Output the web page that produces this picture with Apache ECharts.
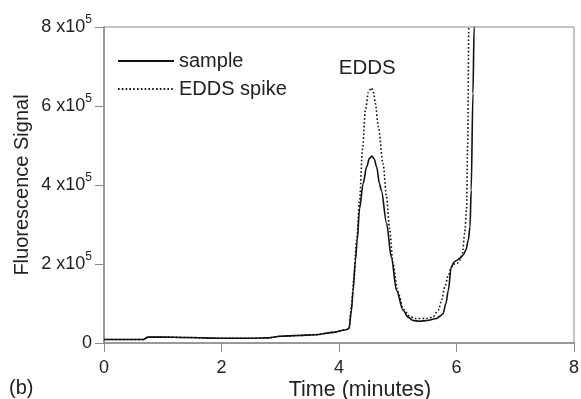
<!DOCTYPE html>
<html>
<head>
<meta charset="UTF-8">
<title>EDDS chromatogram</title>
<script src="https://cdn.jsdelivr.net/npm/echarts@6/dist/echarts.min.js"></script>
<style>
  html, body { margin: 0; padding: 0; background: #fff; }
  #chart { width: 581px; height: 399px; }
</style>
</head>
<body>
<div id="chart"></div>
<script>
// signal values in units of 1e5
var sampleTime = [0, 0.67, 0.75, 1.0, 1.4, 2.0, 2.5, 2.8, 3.0, 3.3, 3.6, 3.9, 4.1, 4.17, 4.21, 4.24, 4.28, 4.31, 4.35, 4.41, 4.47, 4.52, 4.56, 4.6, 4.64, 4.69, 4.72, 4.81, 4.89, 4.98, 5.09, 5.18, 5.26, 5.37, 5.5, 5.66, 5.72, 5.77, 5.82, 5.86, 5.91, 5.96, 6.0, 6.06, 6.11, 6.16, 6.2, 6.23, 6.25, 6.28, 6.3, 6.33];
var sampleSignal = [0.09, 0.09, 0.15, 0.15, 0.14, 0.12, 0.12, 0.13, 0.17, 0.19, 0.21, 0.27, 0.33, 0.36, 0.8, 1.33, 2.1, 2.6, 3.4, 4.03, 4.46, 4.68, 4.73, 4.66, 4.46, 4.03, 3.87, 3.03, 2.18, 1.33, 0.83, 0.65, 0.57, 0.55, 0.57, 0.62, 0.68, 0.74, 1.0, 1.33, 1.92, 2.05, 2.09, 2.15, 2.22, 2.35, 2.6, 2.94, 3.87, 6.32, 8.0, 10];

var spikeTime = [0, 0.67, 0.75, 1.0, 1.4, 2.0, 2.5, 2.8, 3.0, 3.3, 3.6, 3.9, 4.1, 4.17, 4.21, 4.25, 4.3, 4.35, 4.4, 4.45, 4.5, 4.55, 4.59, 4.62, 4.67, 4.75, 4.81, 4.86, 4.92, 5.0, 5.1, 5.2, 5.3, 5.5, 5.6, 5.69, 5.75, 5.8, 5.86, 5.91, 5.96, 6.01, 6.06, 6.1, 6.14, 6.17, 6.19, 6.21, 6.23];
var spikeSignal = [0.09, 0.09, 0.15, 0.15, 0.14, 0.12, 0.12, 0.13, 0.17, 0.19, 0.21, 0.27, 0.33, 0.36, 0.9, 1.6, 2.6, 3.6, 4.9, 5.9, 6.35, 6.46, 6.33, 6.06, 5.47, 4.54, 3.7, 2.9, 2.0, 1.3, 0.85, 0.68, 0.62, 0.62, 0.66, 0.83, 1.1, 1.42, 1.7, 1.92, 2.0, 2.01, 2.1, 2.27, 2.78, 3.36, 5.0, 8.0, 10];

var xTicks = [0, 2, 4, 6, 8];
var yTicks = [0, 2, 4, 6, 8];

function pairs(xs, ys) {
  return xs.map(function (x, i) { return [x, ys[i]]; });
}

var chart = echarts.init(document.getElementById('chart'), null, { renderer: 'canvas' });
var font = 'Liberation Sans, Arial, Helvetica, sans-serif';
var axisGray = '#8a8a8a';

chart.setOption({
  animation: false,
  textStyle: { fontFamily: font, color: '#222' },
  grid: {
    left: 104, right: 7, top: 27, bottom: 56,
    outerBoundsMode: 'none', containLabel: false,
    show: true, borderColor: axisGray, borderWidth: 1
  },
  legend: {
    left: 112, top: 46, orient: 'vertical',
    itemWidth: 56, itemHeight: 18, itemGap: 8,
    itemStyle: { opacity: 0 },
    textStyle: { fontSize: 20, color: '#222', fontFamily: font },
    data: ['sample', 'EDDS spike']
  },
  xAxis: {
    type: 'value', min: xTicks[0], max: xTicks[xTicks.length - 1], interval: 2,
    name: 'Time (minutes)', nameLocation: 'middle', nameGap: 36, nameMoveOverlap: false,
    nameTextStyle: { fontSize: 21.5, color: '#222', padding: [0, 0, 0, 42] },
    axisLine: { lineStyle: { color: axisGray, width: 1.5 } },
    axisTick: { show: true, length: 9, lineStyle: { color: axisGray } },
    axisLabel: { fontSize: 18, color: '#222', margin: 16 },
    splitLine: { show: false }
  },
  yAxis: {
    type: 'value', min: yTicks[0], max: yTicks[yTicks.length - 1], interval: 2,
    name: 'Fluorescence Signal', nameLocation: 'middle', nameGap: 72, nameMoveOverlap: false,
    nameTextStyle: { fontSize: 20, color: '#222' },
    axisLine: { show: true, lineStyle: { color: axisGray, width: 1.5 } },
    axisTick: { show: true, length: 9, lineStyle: { color: axisGray } },
    axisLabel: {
      margin: 12, color: '#222',
      formatter: function (v) { return v === 0 ? '{a|0}' : '{a|' + v + ' x10}{s|5}'; },
      rich: {
        a: { fontSize: 18, color: '#222', fontFamily: font },
        s: { fontSize: 12, color: '#222', fontFamily: font, verticalAlign: 'bottom', padding: [0, 0, 14, 0] }
      }
    },
    splitLine: { show: false }
  },
  graphic: [
    { type: 'text', left: 9, top: 378, style: { text: '(b)', fontSize: 20, fill: '#222', fontFamily: font } }
  ],
  series: [
    {
      name: 'sample', type: 'line', data: pairs(sampleTime, sampleSignal),
      symbol: 'none', smooth: 0.3, smoothMonotone: 'x', clip: true,
      lineStyle: { color: '#111', width: 1.6, type: 'solid' },
      itemStyle: { color: '#111' }
    },
    {
      name: 'EDDS spike', type: 'line', data: pairs(spikeTime, spikeSignal),
      symbol: 'none', smooth: 0.3, smoothMonotone: 'x', clip: true,
      lineStyle: { color: '#111', width: 1.6, type: [1.6, 2.2] },
      itemStyle: { color: '#111' },
      markPoint: {
        symbol: 'circle', symbolSize: 1, silent: true,
        itemStyle: { color: 'rgba(0,0,0,0)' },
        data: [{ coord: [4.55, 6.46], value: 'EDDS' }],
        label: { show: true, position: 'inside', formatter: 'EDDS', fontSize: 20.5, color: '#222', fontFamily: font, offset: [-4, -19] }
      }
    }
  ]
});
</script>
</body>
</html>
